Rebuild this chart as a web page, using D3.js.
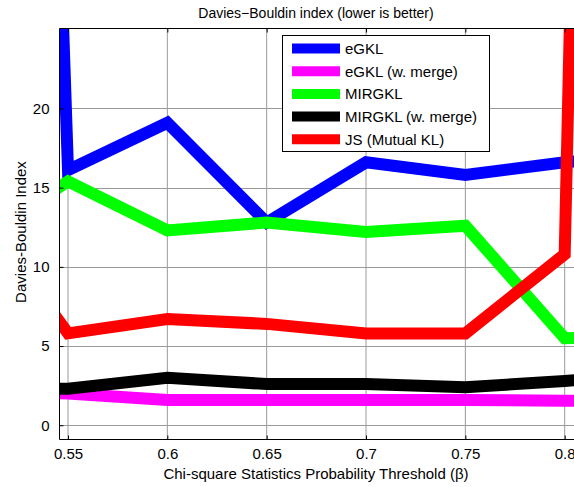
<!DOCTYPE html>
<html><head><meta charset="utf-8">
<script src="https://cdn.jsdelivr.net/npm/d3@7"></script>
<style>body{margin:0;background:#fff;} text{font-family:"Liberation Sans",Arial,sans-serif;}</style>
</head><body>
<svg id="c" width="574" height="487"></svg>
<script>
// x categories (0.5 and 0.85 lie just outside the visible window)
const thresholds = [0.5, 0.55, 0.6, 0.65, 0.7, 0.75, 0.8, 0.85];
const eGKL        = [200, 16.1, 19.1, 12.8, 16.6, 15.8, 16.6, 17.1];
const eGKLMerge   = [2.2, 2.0, 1.6, 1.6, 1.6, 1.6, 1.55, 1.55];
const MIRGKL      = [11.2, 15.4, 12.3, 12.8, 12.2, 12.6, 5.5, 5.6];
const MIRGKLMerge = [2.3, 2.3, 3.0, 2.6, 2.6, 2.4, 2.8, 3.3];
const JS          = [14.4, 5.8, 6.7, 6.4, 5.8, 5.8, 10.8, 290];
const seriesNames = ["eGKL", "eGKL (w. merge)", "MIRGKL", "MIRGKL (w. merge)", "JS (Mutual KL)"];
const seriesColors = ["#0000ff", "#ff00ff", "#00ff00", "#000000", "#ff0000"];
const xTicks = [0.55, 0.6, 0.65, 0.7, 0.75, 0.8];
const yTicks = [0, 5, 10, 15, 20];
const series = [eGKL, eGKLMerge, MIRGKL, MIRGKLMerge, JS];

const svg = d3.select("#c");
const L = 59.5, T = 28.5, B = 439.5, R = 590;
const x = d3.scaleLinear().domain([0.55, 0.8]).range([68, 564.7]);
const y = d3.scaleLinear().domain([-0.9, 25.05]).range([B, T]);

svg.append("defs").append("clipPath").attr("id","clip")
  .append("rect").attr("x",L).attr("y",T).attr("width",R-L).attr("height",B-T);

// grid
const g = svg.append("g");
g.selectAll(".gx").data(xTicks).join("line")
  .attr("x1",d=>x(d)).attr("x2",d=>x(d)).attr("y1",T).attr("y2",B)
  .attr("stroke","#9a9a9a").attr("stroke-width",1);
g.selectAll(".gy").data(yTicks).join("line")
  .attr("x1",L).attr("x2",R).attr("y1",d=>Math.round(y(d))+0.5).attr("y2",d=>Math.round(y(d))+0.5)
  .attr("stroke","#9a9a9a").attr("stroke-width",1);

// lines
const line = d3.line().x((d,i)=>x(thresholds[i])).y(d=>y(d));
svg.append("g").attr("clip-path","url(#clip)")
  .selectAll("path").data(series).join("path")
  .attr("d", d=>line(d)).attr("fill","none")
  .attr("stroke",(d,i)=>seriesColors[i]).attr("stroke-width",12)
  .attr("stroke-linejoin","miter").attr("stroke-miterlimit",2);

// axes
const xAxisB = d3.axisBottom(x).tickValues(xTicks).tickSizeInner(-4).tickSizeOuter(0).tickPadding(9)
  .tickFormat(d=>String(d));
const gxB = svg.append("g").attr("transform",`translate(0,${B})`).call(xAxisB);
gxB.select(".domain").attr("d",`M${L},0H${R}`).attr("stroke","#000");
const xAxisT = d3.axisTop(x).tickValues(xTicks).tickSizeInner(-4).tickSizeOuter(0).tickFormat("");
const gxT = svg.append("g").attr("transform",`translate(0,${T})`).call(xAxisT);
gxT.select(".domain").attr("d",`M${L},0H${R}`).attr("stroke","#000");
const yAxis = d3.axisLeft(y).tickValues(yTicks).tickSizeInner(-4).tickSizeOuter(0).tickPadding(10);
const gy = svg.append("g").attr("transform",`translate(${L},0)`).call(yAxis);
gy.select(".domain").attr("d",`M0,${T}V${B}`).attr("stroke","#000");
svg.selectAll(".tick text").attr("font-size",15).attr("font-family","Liberation Sans, Arial, sans-serif").attr("fill","#000");
svg.selectAll(".tick line").attr("stroke","#000");

// titles
svg.append("text").attr("x",316).attr("y",18).attr("text-anchor","middle").attr("font-size",14)
  .text("Davies\u2212Bouldin index (lower is better)");
svg.append("text").attr("x",316).attr("y",479).attr("text-anchor","middle").attr("font-size",15)
  .text("Chi-square Statistics Probability Threshold (\u03b2)");
svg.append("text").attr("transform","translate(26,232) rotate(-90)").attr("text-anchor","middle").attr("font-size",15)
  .text("Davies-Bouldin Index");

// legend
const lg = svg.append("g");
lg.append("rect").attr("x",282.5).attr("y",35.5).attr("width",207).attr("height",116)
  .attr("fill","#fff").attr("stroke","#000");
seriesNames.forEach((n,i)=>{
  const yy = 48.5 + i*22.7;
  lg.append("line").attr("x1",292).attr("x2",340).attr("y1",yy).attr("y2",yy)
    .attr("stroke",seriesColors[i]).attr("stroke-width",10);
  lg.append("text").attr("x",345).attr("y",yy+5.5).attr("font-size",15).text(n);
});
</script>
</body></html>
